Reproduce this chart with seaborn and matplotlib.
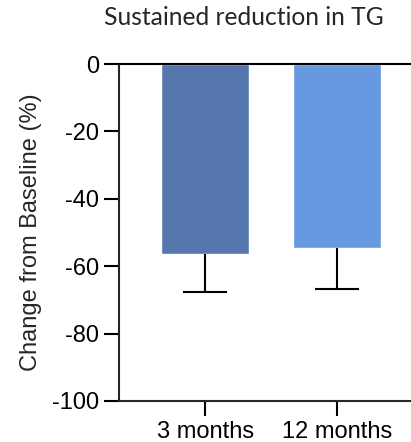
import numpy as np
import pandas as pd
import matplotlib.pyplot as plt
import seaborn as sns

# Data
timepoints = ['3 months', '12 months']
mean_change = [-56.4, -54.7]
sd_lower = [11.3, 12.1]
bar_colors = ['#5677AE', '#6699DF']
ytick_values = [0, -20, -40, -60, -80, -100]

sns.set_style("ticks")
plt.rcParams['font.family'] = ['Liberation Sans', 'DejaVu Sans']

df = pd.DataFrame({'timepoint': timepoints, 'change': mean_change})

fig = plt.figure(figsize=(4.11, 4.42), dpi=100)
ax = fig.add_axes([0.2895, 0.0928, 0.72, 0.7624])

sns.barplot(data=df, x='timepoint', y='change', hue='timepoint',
            palette=bar_colors, width=0.67, errorbar=None, legend=False,
            saturation=1, ax=ax)

# lower error bars only (hide the cap that sits on the bar end)
x = np.arange(len(timepoints))
_, caps, _ = ax.errorbar(x, mean_change, yerr=[sd_lower, np.zeros(len(sd_lower))],
                         fmt='none', ecolor='black', elinewidth=1.5,
                         capsize=15.5, capthick=1.5)
for cap in caps:
    if np.allclose(cap.get_ydata(), mean_change):
        cap.set_visible(False)

ax.axhline(0, color='black', linewidth=1.5, clip_on=False, zorder=5)
ax.set_ylim(-100, 0)
ax.set_xlim(-0.654, 1.59)
ax.set_yticks(ytick_values)
ax.set_yticklabels([str(v) for v in ytick_values])

sns.despine(ax=ax, top=True, right=True)
ax.spines['left'].set_linewidth(1.5)
ax.spines['bottom'].set_linewidth(1.5)
ax.tick_params(axis='both', direction='out', length=11, width=1.5,
               labelsize=17, colors='black', pad=3.5)

ax.set_xlabel('')
ax.set_ylabel('Change from Baseline (%)', fontsize=17, labelpad=7)
ax.set_title('Sustained reduction in TG', fontsize=17.7, family=['Lato', 'DejaVu Sans'],
             pad=28, x=0.422)

fig.savefig('out.png', dpi=100)
plt.close(fig)
